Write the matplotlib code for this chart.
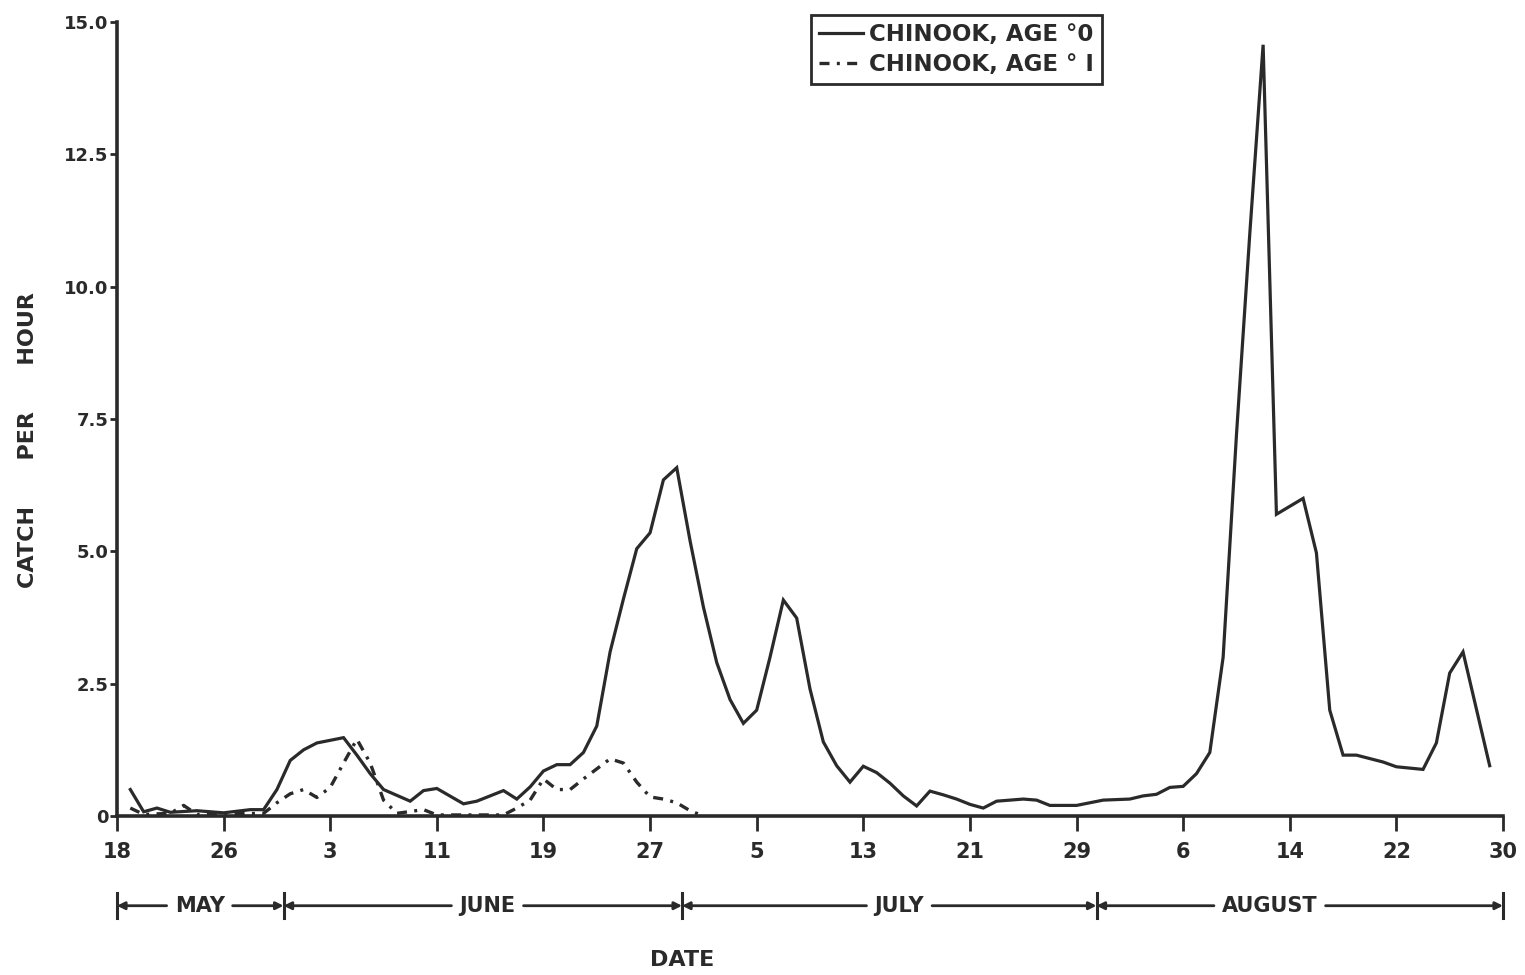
import matplotlib.pyplot as plt

# days counted from 18 May; catch per hour
age0_day = [1, 2, 3, 4, 6, 8, 10, 11, 12, 13, 14, 15, 17, 18, 19, 20, 22, 23, 24, 26,
            27, 29, 30, 31, 32, 33, 34, 35, 36, 37, 38, 39, 40, 41, 42, 43, 44, 45, 46,
            47, 48, 49, 50, 51, 52, 53, 54, 55, 56, 57, 58, 59, 60, 61, 62, 63, 64, 65,
            66, 68, 69, 70, 72, 74, 76, 77, 78, 79, 80, 81, 82, 83, 84, 85, 86, 87, 89,
            90, 91, 92, 93, 95, 96, 98, 99, 100, 101, 103]
age0_cph = [0.5, 0.08, 0.15, 0.07, 0.1, 0.06, 0.12, 0.12, 0.5, 1.05, 1.25, 1.38, 1.48,
            1.15, 0.8, 0.5, 0.28, 0.48, 0.52, 0.23, 0.28, 0.48, 0.32, 0.55, 0.85, 0.97,
            0.97, 1.2, 1.7, 3.1, 4.1, 5.05, 5.35, 6.35, 6.58, 5.2, 3.95, 2.9, 2.2, 1.75,
            2.0, 3.0, 4.08, 3.74, 2.4, 1.4, 0.95, 0.64, 0.94, 0.82, 0.62, 0.38, 0.19,
            0.47, 0.4, 0.32, 0.22, 0.15, 0.28, 0.32, 0.3, 0.2, 0.2, 0.3, 0.32, 0.38,
            0.41, 0.54, 0.56, 0.8, 1.2, 3.0, 7.2, 11.0, 14.57, 5.7, 6.0, 4.97, 2.0,
            1.15, 1.15, 1.02, 0.93, 0.88, 1.38, 2.7, 3.1, 0.95]

age1_day = [1, 2, 4, 5, 6, 11, 12, 13, 14, 15, 16, 17, 18, 19, 20, 21, 23, 24, 29, 30,
            31, 32, 33, 34, 35, 37, 38, 39, 40, 41, 42, 43, 44]
age1_cph = [0.15, 0.03, 0.05, 0.2, 0.03, 0.05, 0.25, 0.42, 0.5, 0.35, 0.54, 1.0, 1.45,
            1.0, 0.3, 0.05, 0.12, 0.02, 0.02, 0.15, 0.3, 0.7, 0.5, 0.5, 0.7, 1.08, 1.0,
            0.64, 0.36, 0.32, 0.25, 0.1, 0.0]

tick_days = [0, 8, 16, 24, 32, 40, 48, 56, 64, 72, 80, 88, 96, 104]
tick_labels = ['18', '26', '3', '11', '19', '27', '5', '13', '21', '29', '6', '14', '22', '30']
y_ticks = [0, 2.5, 5.0, 7.5, 10.0, 12.5, 15.0]
y_labels = ['0', '2.5', '5.0', '7.5', '10.0', '12.5', '15.0']

months = ['MAY', 'JUNE', 'JULY', 'AUGUST']
month_edges = [0, 12.5, 42.4, 73.5, 104]
month_mid = [6.2, 27.8, 58.7, 86.5]

ink = '#2a2a2a'
plt.rcParams['font.family'] = ['DejaVu Sans']
plt.rcParams['font.weight'] = 'bold'

fig = plt.figure(figsize=(15.25, 9.75), dpi=100)
ax = fig.add_axes([117 / 1525, 1 - 816 / 975, 1386 / 1525, 794 / 975])

ax.plot(age0_day, age0_cph, color=ink, lw=2.3, solid_joinstyle='miter',
        label='CHINOOK, AGE °0')
ax.plot(age1_day, age1_cph, color=ink, lw=2.4, linestyle=(0, (3, 2.2, 0.9, 2.2)),
        label='CHINOOK, AGE ° I')

ax.set_xlim(0, 104)
ax.set_ylim(0, 15)
for s in ['top', 'right']:
    ax.spines[s].set_visible(False)
for s in ['left', 'bottom']:
    ax.spines[s].set_linewidth(2.6)
    ax.spines[s].set_color(ink)

ax.set_xticks(tick_days)
ax.set_xticklabels(tick_labels)
ax.set_yticks(y_ticks)
ax.set_yticklabels(y_labels)
ax.tick_params(axis='x', direction='out', length=11, width=2, pad=8,
               labelsize=15, colors=ink)
ax.tick_params(axis='y', direction='out', length=5, width=2, pad=1,
               labelsize=13, colors=ink)

leg = ax.legend(loc='upper left', bbox_to_anchor=(811 / 1525, 960 / 975),
                bbox_transform=fig.transFigure, fontsize=16.5, handlelength=1.9,
                handletextpad=0.3, labelspacing=0.3, borderpad=0.35,
                fancybox=False, framealpha=1, borderaxespad=0)
leg.get_frame().set_edgecolor(ink)
leg.get_frame().set_linewidth(2)
for t in leg.get_texts():
    t.set_color(ink)

fig.text(28 / 1525, 1 - 440 / 975, 'CATCH      PER      HOUR', rotation=90,
         ha='center', va='center', fontsize=16, color=ink)
fig.text(682 / 1525, 1 - 960 / 975, 'DATE', ha='center', va='center',
         fontsize=16, color=ink)

# month row under the date axis
row_y = -0.113
trans = ax.get_xaxis_transform()
fig.canvas.draw()
renderer = fig.canvas.get_renderer()
inv = ax.transData.inverted()
for name, mid, lo, hi in zip(months, month_mid, month_edges[:-1], month_edges[1:]):
    t = ax.text(mid, row_y, name, transform=trans, ha='center', va='center',
                fontsize=15, color=ink, clip_on=False)
    bb = t.get_window_extent(renderer)
    x0 = inv.transform((bb.x0, 0))[0] - 0.6
    x1 = inv.transform((bb.x1, 0))[0] + 0.6
    for start, end in [(x0, lo), (x1, hi)]:
        ax.annotate('', xy=(end, row_y), xytext=(start, row_y), xycoords=trans,
                    textcoords=trans, annotation_clip=False,
                    arrowprops=dict(arrowstyle='-|>', color=ink, lw=2,
                                    shrinkA=0, shrinkB=0, mutation_scale=11))
for e in month_edges:
    ax.plot([e, e], [row_y - 0.016, row_y + 0.016], transform=trans,
            color=ink, lw=2.2, clip_on=False)

fig.savefig('out.png', dpi=100)
